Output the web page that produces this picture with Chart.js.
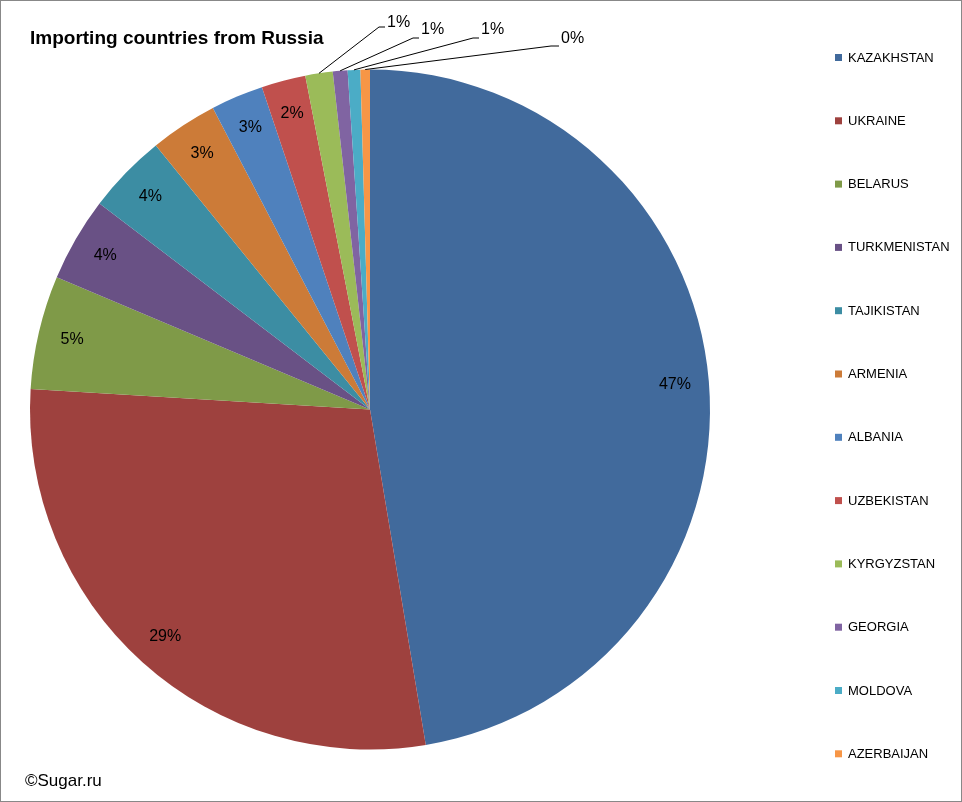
<!DOCTYPE html>
<html><head><meta charset="utf-8">
<script src="https://cdn.jsdelivr.net/npm/chart.js@4"></script>
<style>
html,body{margin:0;padding:0;background:#fff}
#wrap{position:relative;width:960px;height:800px;border:1px solid #888}
</style></head>
<body>
<div id="wrap"><canvas id="c" width="960" height="800"></canvas></div>
<script>
// data (share of imports, %)
const countries = ['KAZAKHSTAN','UKRAINE','BELARUS','TURKMENISTAN','TAJIKISTAN','ARMENIA','ALBANIA','UZBEKISTAN','KYRGYZSTAN','GEORGIA','MOLDOVA','AZERBAIJAN'];
const shares = [47.4, 28.6, 5.4, 4.0, 3.8, 3.2, 2.5, 2.1, 1.3, 0.7, 0.6, 0.45];
const labels = ['47%','29%','5%','4%','4%','3%','3%','2%','1%','1%','1%','0%'];
const colors = ['#416A9C','#9E413E','#7F9A48','#695185','#3C8DA3','#CC7B38','#4F81BD','#C0504D','#9BBB59','#8064A2','#4BACC6','#F79646'];

// outside labels for the thin slices: [elbow x, elbow y, text x, text y]
const callouts = {8:[378,26,386,22], 9:[412,37,420,29], 10:[472,37,480,29], 11:[550,45,560,38]};

const decor = {
  id: 'decor',
  afterDatasetsDraw(chart) {
    const ctx = chart.ctx;
    const meta = chart.getDatasetMeta(0);
    ctx.save();
    ctx.font = '16px "Liberation Sans", Arial, sans-serif';
    ctx.fillStyle = '#000';
    ctx.textBaseline = 'middle';
    meta.data.forEach((arc, i) => {
      const mid = (arc.startAngle + arc.endAngle) / 2;
      if (callouts[i]) {
        const [ex, ey, tx, ty] = callouts[i];
        ctx.strokeStyle = '#000'; ctx.lineWidth = 1;
        ctx.beginPath();
        ctx.moveTo(arc.x + Math.cos(mid) * arc.outerRadius, arc.y + Math.sin(mid) * arc.outerRadius);
        ctx.lineTo(ex, ey); ctx.lineTo(tx - 2, ey);
        ctx.stroke();
        ctx.textAlign = 'left';
        ctx.fillText(labels[i], tx, ty);
      } else {
        const r = arc.outerRadius * 0.9;
        ctx.textAlign = 'center';
        ctx.fillText(labels[i], arc.x + Math.cos(mid) * r, arc.y + Math.sin(mid) * r);
      }
    });
    // title
    ctx.font = 'bold 19px "Liberation Sans", Arial, sans-serif';
    ctx.textAlign = 'left';
    ctx.fillText('Importing countries from Russia', 29, 38);
    ctx.font = '17px "Liberation Sans", Arial, sans-serif';
    ctx.fillText('©Sugar.ru', 24, 780);
    // legend
    ctx.font = '13px "Liberation Sans", Arial, sans-serif';
    countries.forEach((name, i) => {
      const y = 56 + i * 63.3;
      ctx.fillStyle = colors[i];
      ctx.fillRect(834, y - 3, 7, 7);
      ctx.fillStyle = '#000';
      ctx.fillText(name, 847, y + 1);
    });
    ctx.restore();
  }
};

new Chart(document.getElementById('c'), {
  type: 'pie',
  data: {
    labels: countries,
    datasets: [{ data: shares, backgroundColor: colors, borderWidth: 0 }]
  },
  options: {
    responsive: false,
    animation: false,
    layout: { padding: { left: 29, right: 251, top: 68, bottom: 51 } },
    plugins: { legend: { display: false }, tooltip: { enabled: false } }
  },
  plugins: [decor]
});
</script>
</body></html>
